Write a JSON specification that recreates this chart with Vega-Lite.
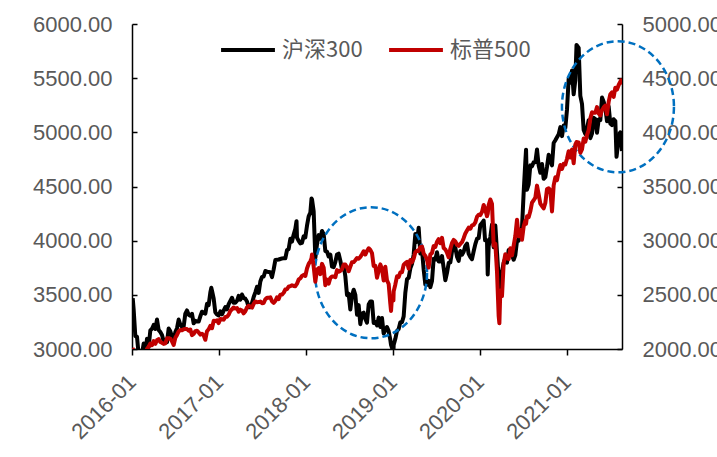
{
"$schema": "https://vega.github.io/schema/vega-lite/v6.json",
"width": 490, "height": 325,
"autosize": {"type": "none"},
"padding": {"left": 132, "top": 24, "right": 95, "bottom": 108},
"background": "white",
"config": {
  "view": {"stroke": null},
  "font": "Liberation Sans",
  "axis": {"grid": false, "labelColor": "#595959", "labelFontSize": 22, "labelFont": "Liberation Sans", "domainColor": "#000000", "domainWidth": 1.5, "tickColor": "#000000", "tickWidth": 1.5, "title": null}
},
"data": {"values": [
{"d":"2016-01-04","a":3470,"b":2012},{"d":"2016-01-08","a":3362,"b":1922},{"d":"2016-01-15","a":3118,"b":1880},{"d":"2016-01-22","a":3113,"b":1907},{"d":"2016-01-29","a":2946,"b":1940},
{"d":"2016-02-05","a":2963,"b":1880},{"d":"2016-02-12","a":2955,"b":1865},{"d":"2016-02-19","a":3051,"b":1918},{"d":"2016-02-26","a":2948,"b":1948},
{"d":"2016-03-04","a":3094,"b":2000},{"d":"2016-03-11","a":3019,"b":2022},{"d":"2016-03-18","a":3172,"b":2050},{"d":"2016-03-25","a":3187,"b":2035},
{"d":"2016-04-01","a":3222,"b":2073},{"d":"2016-04-08","a":3185,"b":2048},{"d":"2016-04-15","a":3272,"b":2081},{"d":"2016-04-22","a":3175,"b":2092},{"d":"2016-04-29","a":3156,"b":2065},
{"d":"2016-05-06","a":3130,"b":2057},{"d":"2016-05-13","a":3072,"b":2047},{"d":"2016-05-20","a":3078,"b":2052},{"d":"2016-05-27","a":3063,"b":2099},
{"d":"2016-06-03","a":3189,"b":2099},{"d":"2016-06-10","a":3163,"b":2096},{"d":"2016-06-17","a":3115,"b":2071},{"d":"2016-06-24","a":3077,"b":2037},
{"d":"2016-07-01","a":3156,"b":2103},{"d":"2016-07-08","a":3192,"b":2130},{"d":"2016-07-15","a":3272,"b":2162},{"d":"2016-07-22","a":3226,"b":2175},{"d":"2016-07-29","a":3203,"b":2174},
{"d":"2016-08-05","a":3207,"b":2183},{"d":"2016-08-12","a":3327,"b":2184},{"d":"2016-08-19","a":3356,"b":2184},{"d":"2016-08-26","a":3316,"b":2169},
{"d":"2016-09-02","a":3307,"b":2180},{"d":"2016-09-09","a":3325,"b":2128},{"d":"2016-09-16","a":3237,"b":2139},{"d":"2016-09-23","a":3260,"b":2165},{"d":"2016-09-30","a":3253,"b":2168},
{"d":"2016-10-07","a":3253,"b":2153},{"d":"2016-10-14","a":3302,"b":2133},{"d":"2016-10-21","a":3344,"b":2141},{"d":"2016-10-28","a":3333,"b":2126},
{"d":"2016-11-04","a":3327,"b":2085},{"d":"2016-11-11","a":3417,"b":2164},{"d":"2016-11-18","a":3406,"b":2182},{"d":"2016-11-25","a":3522,"b":2213},{"d":"2016-11-29","a":3565,"b":2204},
{"d":"2016-12-02","a":3538,"b":2192},{"d":"2016-12-09","a":3467,"b":2260},{"d":"2016-12-16","a":3338,"b":2258},{"d":"2016-12-23","a":3318,"b":2264},{"d":"2016-12-30","a":3310,"b":2239},
{"d":"2017-01-06","a":3347,"b":2277},{"d":"2017-01-13","a":3320,"b":2275},{"d":"2017-01-20","a":3354,"b":2271},{"d":"2017-01-27","a":3387,"b":2295},
{"d":"2017-02-03","a":3365,"b":2297},{"d":"2017-02-10","a":3414,"b":2316},{"d":"2017-02-17","a":3444,"b":2351},{"d":"2017-02-24","a":3473,"b":2367},
{"d":"2017-03-03","a":3427,"b":2383},{"d":"2017-03-10","a":3427,"b":2373},{"d":"2017-03-17","a":3445,"b":2378},{"d":"2017-03-24","a":3490,"b":2344},{"d":"2017-03-31","a":3456,"b":2363},
{"d":"2017-04-07","a":3503,"b":2355},{"d":"2017-04-14","a":3470,"b":2329},{"d":"2017-04-21","a":3464,"b":2349},{"d":"2017-04-28","a":3439,"b":2384},
{"d":"2017-05-05","a":3386,"b":2399},{"d":"2017-05-12","a":3385,"b":2391},{"d":"2017-05-19","a":3424,"b":2382},{"d":"2017-05-26","a":3480,"b":2416},
{"d":"2017-06-02","a":3523,"b":2439},{"d":"2017-06-09","a":3575,"b":2432},{"d":"2017-06-16","a":3518,"b":2433},{"d":"2017-06-23","a":3623,"b":2438},{"d":"2017-06-30","a":3666,"b":2423},
{"d":"2017-07-07","a":3669,"b":2425},{"d":"2017-07-14","a":3720,"b":2459},{"d":"2017-07-21","a":3715,"b":2472},{"d":"2017-07-28","a":3710,"b":2472},
{"d":"2017-08-04","a":3708,"b":2477},{"d":"2017-08-11","a":3664,"b":2441},{"d":"2017-08-18","a":3735,"b":2426},{"d":"2017-08-25","a":3821,"b":2443},
{"d":"2017-09-01","a":3823,"b":2477},{"d":"2017-09-08","a":3826,"b":2461},{"d":"2017-09-15","a":3831,"b":2500},{"d":"2017-09-22","a":3836,"b":2502},{"d":"2017-09-29","a":3837,"b":2519},
{"d":"2017-10-06","a":3837,"b":2549},{"d":"2017-10-13","a":3912,"b":2553},{"d":"2017-10-20","a":3923,"b":2575},{"d":"2017-10-27","a":4017,"b":2581},
{"d":"2017-11-03","a":3992,"b":2588},{"d":"2017-11-10","a":4057,"b":2582},{"d":"2017-11-17","a":4109,"b":2579},{"d":"2017-11-22","a":4180,"b":2597},{"d":"2017-11-24","a":4028,"b":2602},
{"d":"2017-12-01","a":3998,"b":2642},{"d":"2017-12-08","a":3975,"b":2652},{"d":"2017-12-15","a":3980,"b":2675},{"d":"2017-12-22","a":4041,"b":2684},{"d":"2017-12-29","a":4031,"b":2674},
{"d":"2018-01-05","a":4138,"b":2743},{"d":"2018-01-12","a":4225,"b":2786},{"d":"2018-01-19","a":4258,"b":2810},{"d":"2018-01-24","a":4389,"b":2837},{"d":"2018-01-26","a":4382,"b":2873},
{"d":"2018-02-02","a":4271,"b":2762},{"d":"2018-02-09","a":3840,"b":2620},{"d":"2018-02-16","a":3966,"b":2732},{"d":"2018-02-23","a":4051,"b":2747},
{"d":"2018-03-02","a":4019,"b":2691},{"d":"2018-03-09","a":4089,"b":2786},{"d":"2018-03-16","a":4060,"b":2752},{"d":"2018-03-23","a":3904,"b":2588},{"d":"2018-03-30","a":3899,"b":2641},
{"d":"2018-04-06","a":3854,"b":2604},{"d":"2018-04-13","a":3871,"b":2656},{"d":"2018-04-20","a":3760,"b":2670},{"d":"2018-04-27","a":3756,"b":2670},
{"d":"2018-05-04","a":3803,"b":2663},{"d":"2018-05-11","a":3872,"b":2728},{"d":"2018-05-18","a":3880,"b":2713},{"d":"2018-05-25","a":3816,"b":2721},
{"d":"2018-06-01","a":3735,"b":2735},{"d":"2018-06-08","a":3773,"b":2779},{"d":"2018-06-15","a":3672,"b":2780},{"d":"2018-06-22","a":3497,"b":2755},{"d":"2018-06-29","a":3510,"b":2718},
{"d":"2018-07-06","a":3365,"b":2760},{"d":"2018-07-13","a":3491,"b":2801},{"d":"2018-07-20","a":3547,"b":2802},{"d":"2018-07-27","a":3500,"b":2819},
{"d":"2018-08-03","a":3317,"b":2840},{"d":"2018-08-10","a":3405,"b":2833},{"d":"2018-08-17","a":3229,"b":2850},{"d":"2018-08-24","a":3325,"b":2875},{"d":"2018-08-31","a":3335,"b":2902},
{"d":"2018-09-07","a":3278,"b":2872},{"d":"2018-09-14","a":3243,"b":2905},{"d":"2018-09-21","a":3410,"b":2930},{"d":"2018-09-28","a":3438,"b":2914},
{"d":"2018-10-05","a":3438,"b":2885},{"d":"2018-10-12","a":3241,"b":2767},{"d":"2018-10-19","a":3248,"b":2768},{"d":"2018-10-26","a":3218,"b":2658},
{"d":"2018-11-02","a":3290,"b":2723},{"d":"2018-11-09","a":3203,"b":2781},{"d":"2018-11-16","a":3287,"b":2736},{"d":"2018-11-23","a":3143,"b":2633},{"d":"2018-11-30","a":3172,"b":2760},
{"d":"2018-12-07","a":3203,"b":2633},{"d":"2018-12-14","a":3166,"b":2600},{"d":"2018-12-21","a":3084,"b":2417},{"d":"2018-12-24","a":3038,"b":2351},{"d":"2018-12-28","a":3011,"b":2486},
{"d":"2019-01-03","a":2965,"b":2448},{"d":"2019-01-04","a":3036,"b":2532},{"d":"2019-01-11","a":3094,"b":2596},{"d":"2019-01-18","a":3168,"b":2671},{"d":"2019-01-25","a":3184,"b":2665},
{"d":"2019-02-01","a":3247,"b":2707},{"d":"2019-02-08","a":3247,"b":2708},{"d":"2019-02-15","a":3301,"b":2776},{"d":"2019-02-22","a":3520,"b":2793},
{"d":"2019-03-01","a":3643,"b":2804},{"d":"2019-03-08","a":3657,"b":2743},{"d":"2019-03-15","a":3745,"b":2822},{"d":"2019-03-22","a":3786,"b":2801},{"d":"2019-03-29","a":3872,"b":2834},
{"d":"2019-04-05","a":4062,"b":2893},{"d":"2019-04-12","a":3989,"b":2907},{"d":"2019-04-19","a":4120,"b":2905},{"d":"2019-04-26","a":3881,"b":2940},
{"d":"2019-05-03","a":3913,"b":2946},{"d":"2019-05-10","a":3734,"b":2881},{"d":"2019-05-17","a":3596,"b":2860},{"d":"2019-05-24","a":3593,"b":2826},{"d":"2019-05-31","a":3629,"b":2752},
{"d":"2019-06-07","a":3571,"b":2873},{"d":"2019-06-14","a":3628,"b":2887},{"d":"2019-06-21","a":3834,"b":2950},{"d":"2019-06-28","a":3826,"b":2942},
{"d":"2019-07-05","a":3893,"b":2990},{"d":"2019-07-12","a":3808,"b":3014},{"d":"2019-07-19","a":3808,"b":2977},{"d":"2019-07-26","a":3858,"b":3026},
{"d":"2019-08-02","a":3747,"b":2932},{"d":"2019-08-09","a":3634,"b":2919},{"d":"2019-08-16","a":3703,"b":2889},{"d":"2019-08-23","a":3794,"b":2847},{"d":"2019-08-30","a":3799,"b":2926},
{"d":"2019-09-06","a":3900,"b":2979},{"d":"2019-09-13","a":3972,"b":3007},{"d":"2019-09-20","a":3935,"b":2992},{"d":"2019-09-27","a":3852,"b":2962},
{"d":"2019-10-04","a":3814,"b":2952},{"d":"2019-10-11","a":3904,"b":2970},{"d":"2019-10-18","a":3870,"b":2986},{"d":"2019-10-25","a":3897,"b":3023},
{"d":"2019-11-01","a":3952,"b":3067},{"d":"2019-11-08","a":3973,"b":3093},{"d":"2019-11-15","a":3878,"b":3120},{"d":"2019-11-22","a":3849,"b":3110},{"d":"2019-11-29","a":3829,"b":3141},
{"d":"2019-12-06","a":3902,"b":3146},{"d":"2019-12-13","a":3968,"b":3169},{"d":"2019-12-20","a":4018,"b":3221},{"d":"2019-12-27","a":4023,"b":3240},
{"d":"2020-01-03","a":4144,"b":3235},{"d":"2020-01-10","a":4163,"b":3265},{"d":"2020-01-17","a":4186,"b":3330},{"d":"2020-01-23","a":4003,"b":3295},{"d":"2020-01-31","a":4003,"b":3226},
{"d":"2020-02-03","a":3688,"b":3249},{"d":"2020-02-07","a":3946,"b":3328},{"d":"2020-02-14","a":4034,"b":3380},{"d":"2020-02-21","a":4149,"b":3338},{"d":"2020-02-28","a":3940,"b":2954},
{"d":"2020-03-06","a":4139,"b":2972},{"d":"2020-03-13","a":3895,"b":2711},{"d":"2020-03-20","a":3653,"b":2305},{"d":"2020-03-23","a":3531,"b":2237},{"d":"2020-03-27","a":3710,"b":2541},
{"d":"2020-04-03","a":3713,"b":2489},{"d":"2020-04-10","a":3797,"b":2790},{"d":"2020-04-17","a":3839,"b":2875},{"d":"2020-04-24","a":3797,"b":2837},
{"d":"2020-05-01","a":3913,"b":2831},{"d":"2020-05-08","a":3912,"b":2930},{"d":"2020-05-15","a":3867,"b":2864},{"d":"2020-05-22","a":3824,"b":2955},{"d":"2020-05-29","a":3868,"b":3044},
{"d":"2020-06-05","a":3999,"b":3194},{"d":"2020-06-12","a":4000,"b":3041},{"d":"2020-06-19","a":4099,"b":3098},{"d":"2020-06-26","a":4120,"b":3009},
{"d":"2020-07-03","a":4446,"b":3130},{"d":"2020-07-10","a":4733,"b":3185},{"d":"2020-07-13","a":4840,"b":3155},{"d":"2020-07-17","a":4470,"b":3225},{"d":"2020-07-24","a":4520,"b":3216},{"d":"2020-07-31","a":4695,"b":3271},
{"d":"2020-08-07","a":4686,"b":3351},{"d":"2020-08-14","a":4723,"b":3373},{"d":"2020-08-21","a":4723,"b":3397},{"d":"2020-08-28","a":4842,"b":3508},
{"d":"2020-09-04","a":4693,"b":3427},{"d":"2020-09-11","a":4627,"b":3341},{"d":"2020-09-18","a":4708,"b":3319},{"d":"2020-09-25","a":4571,"b":3298},
{"d":"2020-10-02","a":4587,"b":3348},{"d":"2020-10-09","a":4681,"b":3477},{"d":"2020-10-16","a":4793,"b":3484},{"d":"2020-10-23","a":4742,"b":3465},{"d":"2020-10-30","a":4695,"b":3270},
{"d":"2020-11-06","a":4902,"b":3510},{"d":"2020-11-13","a":4927,"b":3585},{"d":"2020-11-20","a":4955,"b":3558},{"d":"2020-11-27","a":4981,"b":3638},
{"d":"2020-12-04","a":5048,"b":3699},{"d":"2020-12-11","a":4965,"b":3663},{"d":"2020-12-18","a":5062,"b":3709},{"d":"2020-12-25","a":5042,"b":3703},
{"d":"2021-01-01","a":5211,"b":3756},{"d":"2021-01-08","a":5495,"b":3825},{"d":"2021-01-15","a":5458,"b":3768},{"d":"2021-01-22","a":5570,"b":3841},{"d":"2021-01-29","a":5351,"b":3714},
{"d":"2021-02-05","a":5484,"b":3887},{"d":"2021-02-10","a":5807,"b":3910},{"d":"2021-02-19","a":5779,"b":3907},{"d":"2021-02-26","a":5336,"b":3811},
{"d":"2021-03-05","a":5262,"b":3842},{"d":"2021-03-12","a":5021,"b":3943},{"d":"2021-03-19","a":4984,"b":3913},{"d":"2021-03-26","a":5037,"b":3975},
{"d":"2021-04-02","a":5112,"b":4020},{"d":"2021-04-09","a":4946,"b":4129},{"d":"2021-04-16","a":4989,"b":4185},{"d":"2021-04-23","a":5135,"b":4180},{"d":"2021-04-30","a":5123,"b":4181},
{"d":"2021-05-07","a":4996,"b":4233},{"d":"2021-05-14","a":5118,"b":4174},{"d":"2021-05-21","a":5114,"b":4156},{"d":"2021-05-28","a":5321,"b":4204},
{"d":"2021-06-04","a":5282,"b":4230},{"d":"2021-06-11","a":5224,"b":4247},{"d":"2021-06-18","a":5102,"b":4166},{"d":"2021-06-25","a":5240,"b":4281},
{"d":"2021-07-02","a":5082,"b":4352},{"d":"2021-07-09","a":5067,"b":4370},{"d":"2021-07-16","a":5121,"b":4327},{"d":"2021-07-23","a":5104,"b":4412},{"d":"2021-07-28","a":4774,"b":4400},{"d":"2021-07-30","a":4811,"b":4395},
{"d":"2021-08-06","a":4964,"b":4437},{"d":"2021-08-13","a":4999,"b":4468},{"d":"2021-08-16","a":4930,"b":4480},{"d":"2021-08-20","a":4827,"b":4441}
]},
"layer": [
  {"layer": [
    {"mark": {"type": "line", "strokeWidth": 4, "clip": true, "strokeJoin": "round"},
     "encoding": {
       "x": {"field": "d", "type": "temporal",
             "scale": {"type": "utc", "domain": [{"year": 2016, "month": 1, "date": 1, "utc": true}, {"year": 2021, "month": 8, "date": 20, "utc": true}]},
             "axis": {"format": "%Y-%m", "labelAngle": -45, "tickSize": 6, "labelPadding": 16, "labelOffset": -7,
                      "values": [{"year": 2016, "month": 1, "date": 1, "utc": true}, {"year": 2017, "month": 1, "date": 1, "utc": true}, {"year": 2018, "month": 1, "date": 1, "utc": true}, {"year": 2019, "month": 1, "date": 1, "utc": true}, {"year": 2020, "month": 1, "date": 1, "utc": true}, {"year": 2021, "month": 1, "date": 1, "utc": true}]}},
       "y": {"field": "a", "type": "quantitative",
             "scale": {"domain": [3000, 6000], "nice": false, "zero": false},
             "axis": {"orient": "left", "values": [3000, 3500, 4000, 4500, 5000, 5500, 6000], "format": ".2f", "tickSize": -5, "labelPadding": 25}},
       "color": {"datum": "沪深300", "type": "nominal",
                 "scale": {"domain": ["沪深300", "标普500"], "range": ["#000000", "#C00000"]},
                 "legend": {"orient": "none", "legendX": 87, "legendY": -3, "direction": "horizontal", "title": null,
                            "symbolType": "stroke", "symbolSize": 2900, "symbolStrokeWidth": 4,
                            "labelFontSize": 22, "labelColor": "#595959", "labelFont": "Noto Sans CJK SC",
                            "columnPadding": 18, "labelOffset": 5}}
     }},
    {"data": {"values": [{"d": "2018-10-01", "a": 3704}, {"d": "2021-08-03", "a": 5236}]},
     "mark": {"type": "point", "shape": "M 1 0 C 1 0.646 0.552 1.17 0 1.17 C -0.552 1.17 -1 0.646 -1 0 C -1 -0.646 -0.552 -1.17 0 -1.17 C 0.552 -1.17 1 -0.646 1 0 Z",
              "size": 12544, "filled": false, "stroke": "#0070C0", "strokeWidth": 2.5, "strokeDash": [7, 4], "opacity": 1},
     "encoding": {
       "x": {"field": "d", "type": "temporal"},
       "y": {"field": "a", "type": "quantitative"}
     }}
  ]},
  {"mark": {"type": "line", "strokeWidth": 4, "clip": true, "strokeJoin": "round"},
   "encoding": {
     "x": {"field": "d", "type": "temporal"},
     "y": {"field": "b", "type": "quantitative",
           "scale": {"domain": [2000, 5000], "nice": false, "zero": false},
           "axis": {"orient": "right", "values": [2000, 2500, 3000, 3500, 4000, 4500, 5000], "format": ".2f", "tickSize": -5, "labelPadding": 25}},
     "color": {"datum": "标普500", "type": "nominal"}
   }}
],
"resolve": {"scale": {"y": "independent"}}
}
